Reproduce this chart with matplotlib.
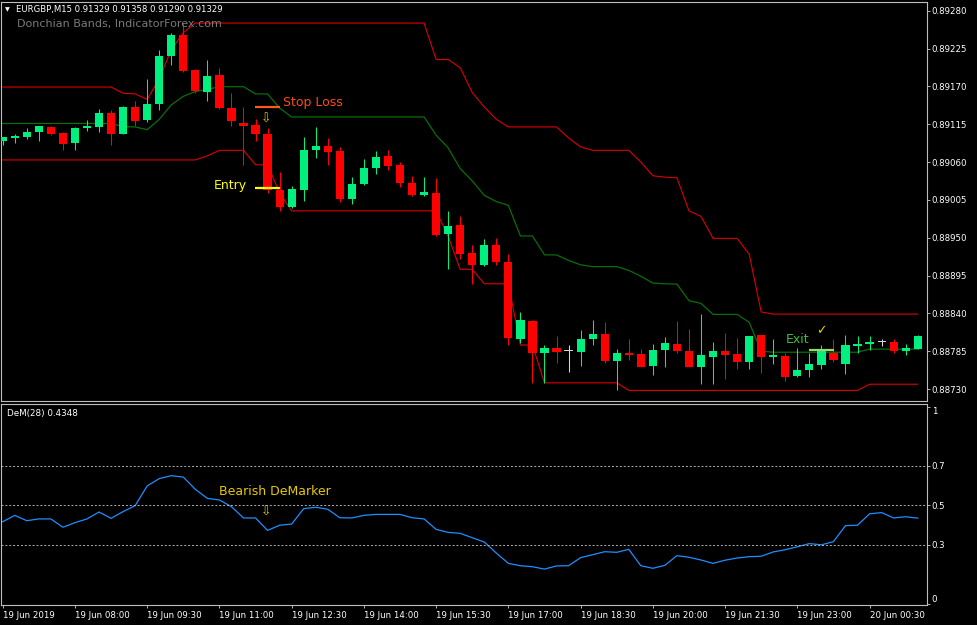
import numpy as np
import matplotlib.pyplot as plt

plt.rcParams['font.family'] = ['DejaVu Sans']

# EURGBP M15 bars
opens = [0.89090, 0.89095, 0.89096, 0.89103, 0.89111, 0.89102, 0.89087, 0.89109, 0.89111, 0.89131,
         0.89101, 0.89140, 0.89121, 0.89144, 0.89214, 0.89245, 0.89194, 0.89162, 0.89187, 0.89139,
         0.89117, 0.89114, 0.89100, 0.89019, 0.88994, 0.89019, 0.89078, 0.89083, 0.89076, 0.89006,
         0.89028, 0.89051, 0.89069, 0.89055, 0.89029, 0.89012, 0.89015, 0.88955, 0.88968, 0.88928,
         0.88910, 0.88940, 0.88915, 0.88803, 0.88829, 0.88783, 0.88790, 0.88785, 0.88784, 0.88802,
         0.88810, 0.88771, 0.88782, 0.88781, 0.88763, 0.88787, 0.88796, 0.88786, 0.88762, 0.88777,
         0.88786, 0.88781, 0.88769, 0.88808, 0.88776, 0.88778, 0.88749, 0.88757, 0.88765, 0.88782,
         0.88767, 0.88792, 0.88795, 0.88798, 0.88799, 0.88785, 0.88788]
highs = [0.89097, 0.89100, 0.89109, 0.89113, 0.89112, 0.89104, 0.89111, 0.89121, 0.89137, 0.89135,
         0.89141, 0.89149, 0.89181, 0.89223, 0.89248, 0.89262, 0.89195, 0.89209, 0.89197, 0.89161,
         0.89140, 0.89122, 0.89110, 0.89046, 0.89025, 0.89097, 0.89111, 0.89095, 0.89082, 0.89038,
         0.89064, 0.89076, 0.89077, 0.89060, 0.89040, 0.89038, 0.89037, 0.88989, 0.88981, 0.88940,
         0.88948, 0.88949, 0.88926, 0.88842, 0.88830, 0.88794, 0.88807, 0.88794, 0.88816, 0.88830,
         0.88828, 0.88788, 0.88803, 0.88788, 0.88795, 0.88806, 0.88829, 0.88817, 0.88839, 0.88799,
         0.88812, 0.88804, 0.88807, 0.88808, 0.88803, 0.88782, 0.88789, 0.88782, 0.88794, 0.88803,
         0.88808, 0.88807, 0.88807, 0.88802, 0.88802, 0.88795, 0.88808]
lows = [0.89085, 0.89088, 0.89094, 0.89090, 0.89099, 0.89077, 0.89078, 0.89105, 0.89103, 0.89085,
        0.89101, 0.89113, 0.89118, 0.89135, 0.89201, 0.89191, 0.89160, 0.89148, 0.89137, 0.89112,
        0.89056, 0.89091, 0.89015, 0.88989, 0.88993, 0.89004, 0.89066, 0.89056, 0.89002, 0.88999,
        0.89026, 0.89043, 0.89048, 0.89024, 0.89010, 0.89010, 0.88952, 0.88904, 0.88919, 0.88883,
        0.88909, 0.88910, 0.88794, 0.88797, 0.88739, 0.88739, 0.88768, 0.88755, 0.88763, 0.88794,
        0.88768, 0.88728, 0.88772, 0.88762, 0.88751, 0.88762, 0.88782, 0.88762, 0.88737, 0.88737,
        0.88744, 0.88759, 0.88759, 0.88753, 0.88767, 0.88741, 0.88748, 0.88748, 0.88759, 0.88770,
        0.88752, 0.88782, 0.88787, 0.88793, 0.88782, 0.88780, 0.88788]
closes = [0.89096, 0.89098, 0.89103, 0.89112, 0.89101, 0.89086, 0.89110, 0.89112, 0.89131, 0.89100,
          0.89140, 0.89120, 0.89144, 0.89214, 0.89245, 0.89192, 0.89163, 0.89185, 0.89138, 0.89119,
          0.89112, 0.89100, 0.89019, 0.88994, 0.89021, 0.89078, 0.89084, 0.89075, 0.89006, 0.89028,
          0.89051, 0.89068, 0.89054, 0.89029, 0.89012, 0.89016, 0.88954, 0.88967, 0.88927, 0.88911,
          0.88940, 0.88915, 0.88804, 0.88830, 0.88783, 0.88790, 0.88784, 0.88785, 0.88803, 0.88810,
          0.88771, 0.88782, 0.88780, 0.88762, 0.88787, 0.88797, 0.88785, 0.88762, 0.88780, 0.88786,
          0.88780, 0.88770, 0.88807, 0.88776, 0.88780, 0.88748, 0.88758, 0.88766, 0.88786, 0.88772,
          0.88794, 0.88795, 0.88798, 0.88798, 0.88785, 0.88790, 0.88807]

# Donchian band values for the first 20 bars (history before the visible window)
upper_start = [0.89169] * 10 + [0.89160, 0.89159, 0.89151, 0.89181, 0.89223, 0.89248,
                                0.89262, 0.89262, 0.89262, 0.89262]
lower_start = [0.89063] * 17 + [0.89069, 0.89077, 0.89077]
period = 20

# DeMarker(28)
dem = [0.417, 0.449, 0.422, 0.431, 0.431, 0.389, 0.412, 0.431, 0.466, 0.434,
       0.468, 0.498, 0.598, 0.635, 0.650, 0.643, 0.581, 0.535, 0.527, 0.493,
       0.436, 0.436, 0.373, 0.399, 0.405, 0.483, 0.490, 0.480, 0.437, 0.436,
       0.449, 0.454, 0.454, 0.454, 0.437, 0.431, 0.378, 0.363, 0.358, 0.336,
       0.314, 0.258, 0.206, 0.194, 0.189, 0.177, 0.193, 0.194, 0.235, 0.250,
       0.265, 0.262, 0.277, 0.194, 0.181, 0.196, 0.245, 0.237, 0.223, 0.206,
       0.222, 0.233, 0.240, 0.242, 0.264, 0.275, 0.290, 0.306, 0.300, 0.316,
       0.397, 0.399, 0.457, 0.463, 0.436, 0.442, 0.435]
dem_levels = [0.7, 0.5, 0.3]

price_ticks = [0.89280, 0.89225, 0.89170, 0.89115, 0.89060, 0.89005,
               0.88950, 0.88895, 0.88840, 0.88785, 0.88730]
time_tick_bars = [0, 6, 12, 18, 24, 30, 36, 42, 48, 54, 60, 66, 72]
time_labels = ["19 Jun 2019", "19 Jun 08:00", "19 Jun 09:30", "19 Jun 11:00",
               "19 Jun 12:30", "19 Jun 14:00", "19 Jun 15:30", "19 Jun 17:00",
               "19 Jun 18:30", "19 Jun 20:00", "19 Jun 21:30", "19 Jun 23:00",
               "20 Jun 00:30"]

stop_loss = 0.89140
entry = 0.89022
exit_level = 0.88787

o = np.array(opens); h = np.array(highs); l = np.array(lows); c = np.array(closes)
n = len(o)
x = np.arange(n)

upper = np.array(upper_start + [h[i - period:i].max() for i in range(period, n)])
lower = np.array(lower_start + [l[i - period:i].min() for i in range(period, n)])
middle = (upper + lower) / 2

W, H = 977, 625
fig = plt.figure(figsize=(W / 100, H / 100), dpi=100, facecolor='black')

def frac(left, top, right, bottom):
    return [left / W, 1 - bottom / H, (right - left) / W, (bottom - top) / H]

ax = fig.add_axes(frac(1, 2, 927, 401))
ax2 = fig.add_axes(frac(1, 404, 927, 605))

for a in (ax, ax2):
    a.set_facecolor('black')
    for s in a.spines.values():
        s.set_color('#bdbdbd')
        s.set_linewidth(0.8)
    a.set_xlim(-0.14, 76.77)
    a.yaxis.tick_right()
    a.tick_params(axis='y', colors='#cfcfcf', labelcolor='white', labelsize=6.2,
                  length=2, width=0.6, pad=1.5)

# candles
bull, bear, doji = '#00f080', '#ff0000', '#d8d8d8'
colors = [bull if cc > oo else (bear if cc < oo else doji) for oo, cc in zip(o, c)]
ax.vlines(x, l, h, colors=colors, lw=0.75, zorder=3)
body_h = np.maximum(np.abs(c - o), 0.000015)
ax.bar(x, body_h, bottom=np.minimum(o, c), width=0.68, color=colors, linewidth=0, zorder=4)

# donchian bands
ax.plot(x, upper, color='#dd0000', lw=0.8, zorder=2)
ax.plot(x, lower, color='#dd0000', lw=0.8, zorder=2)
ax.plot(x, middle, color='#0a6e0a', lw=0.9, zorder=2)

ax.set_ylim(0.887126, 0.892926)
ax.set_yticks(price_ticks)
ax.set_yticklabels([f'{p:.5f}' for p in price_ticks])
ax.set_xticks([])

# annotations
ax.hlines(stop_loss, 20.95, 23.03, color='#ff5a1e', lw=1.6, zorder=5)
ax.text(23.28, 0.891465, 'Stop Loss', color='#ff4a14', fontsize=9, va='center', ha='left')
ax.hlines(entry, 20.95, 23.03, color='#ffff00', lw=1.6, zorder=5)
ax.text(17.55, 0.89026, 'Entry', color='#ffff00', fontsize=9, va='center', ha='left')
ax.text(21.9, 0.891226, '⇩', color='#d8c400', fontsize=9, va='center', ha='center')
ax.hlines(exit_level, 66.97, 69.04, color='#9ad86a', lw=1.6, zorder=5)
ax.text(65.06, 0.888027, 'Exit', color='#3cbc3c', fontsize=9, va='center', ha='left')
ax.text(68.0, 0.888144, '✓', color='#e8d000', fontsize=9, va='center', ha='center')

fig.text(5 / W, 1 - 9.5 / H, '▼', color='white', fontsize=4.5, va='center', ha='left')
fig.text(16 / W, 1 - 9.5 / H, 'EURGBP,M15 0.91329 0.91358 0.91290 0.91329',
         color='white', fontsize=6.1, va='center', ha='left')
fig.text(17 / W, 1 - 24 / H, 'Donchian Bands, IndicatorForex.com', color='#7a7a7a',
         fontsize=8, va='center', ha='left')

# DeMarker panel
ax2.plot(x, dem, color='#1e8fff', lw=0.9)
for lv in dem_levels:
    ax2.axhline(lv, color='#b0b0b0', lw=0.7, ls=(0, (2, 2)))
ax2.set_ylim(-0.0048, 1.0129)
ax2.set_yticks([1, 0.7, 0.5, 0.3, 0])
ax2.set_yticklabels(['1', '0.7', '0.5', '0.3', '0'])
ylabels = ax2.get_yticklabels()
ylabels[0].set_va('top')
ylabels[-1].set_va('bottom')
ax2.set_xticks(time_tick_bars)
ax2.set_xticklabels(time_labels, ha='left')
ax2.tick_params(axis='x', colors='#cfcfcf', labelcolor='white', labelsize=6.2,
                length=2.5, width=0.6, pad=1.5)
ax2.text(0.006, 0.955, 'DeM(28) 0.4348', transform=ax2.transAxes, color='white',
         fontsize=6.3, va='center', ha='left')
ax2.text(17.97, 0.572, 'Bearish DeMarker', color='#e8c800', fontsize=9, va='center', ha='left')
ax2.text(21.9, 0.466, '⇩', color='#d8c400', fontsize=9, va='center', ha='center')

fig.savefig('out.png', dpi=100, facecolor='black')
